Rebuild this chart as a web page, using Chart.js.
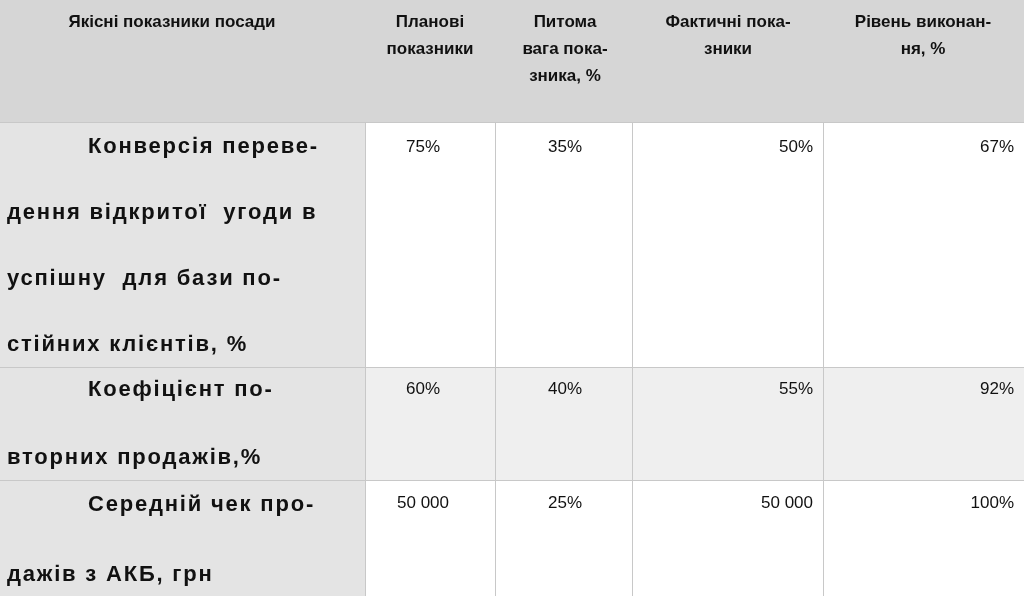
<!DOCTYPE html>
<html><head><meta charset="utf-8">
<script src="https://cdn.jsdelivr.net/npm/chart.js@4.4.6/dist/chart.umd.min.js"></script>
<style>html,body{margin:0;padding:0;background:#fff}#wrap{width:1024px;height:596px}</style>
</head><body><div id="wrap"><canvas id="c"></canvas></div>
<script>
// table data
const headers = [
  ['Якісні показники посади'],
  ['Планові', 'показники'],
  ['Питома', 'вага пока-', 'зника, %'],
  ['Фактичні пока-', 'зники'],
  ['Рівень виконан-', 'ня, %']
]
const rowLabels = [
  ['Конверсія переве-', 'дення відкритої  угоди в', 'успішну  для бази по-', 'стійних клієнтів, %'],
  ['Коефіцієнт по-', 'вторних продажів,%'],
  ['Середній чек про-', 'дажів з АКБ, грн']
]
const planned = ['75%', '60%', '50 000']
const weight = ['35%', '40%', '25%']
const actual = ['50%', '55%', '50 000']
const completion = ['67%', '92%', '100%']

// layout (pixels in a 1024x596 coordinate space)
const colEdges = [0, 365, 495, 632, 823, 1024]
const rowEdges = [0, 122, 367, 480, 596]
const FONT = '"Helvetica Neue", "Liberation Sans", Arial, sans-serif'

const tablePlugin = {
  id: 'table',
  afterDraw (chart) {
    const { ctx, scales: { x, y } } = chart
    const px = v => x.getPixelForValue(v)
    const py = v => y.getPixelForValue(v)
    const rect = (c0, c1, r0, r1, fill) => {
      ctx.fillStyle = fill
      ctx.fillRect(px(c0), py(r0), px(c1) - px(c0), py(r1) - py(r0))
    }
    ctx.save()
    // backgrounds
    rect(0, 1024, 0, 122, '#d6d6d6')
    rect(0, 365, 122, 596, '#e4e4e4')
    rect(365, 1024, 367, 480, '#efefef')
    // grid lines
    ctx.strokeStyle = '#c8c8c8'
    ctx.lineWidth = 1
    colEdges.slice(1, -1).forEach(cx => {
      ctx.beginPath(); ctx.moveTo(px(cx) + 0.5, py(122)); ctx.lineTo(px(cx) + 0.5, py(596)); ctx.stroke()
    })
    rowEdges.slice(1, -1).forEach(ry => {
      ctx.beginPath(); ctx.moveTo(px(0), py(ry) + 0.5); ctx.lineTo(px(1024), py(ry) + 0.5); ctx.stroke()
    })
    ctx.fillStyle = '#111'
    ctx.textBaseline = 'middle'
    // headers
    ctx.font = 'bold 17px ' + FONT
    ctx.textAlign = 'center'
    const hx = [172, 430, 565, 728, 923]
    headers.forEach((lines, i) => lines.forEach((t, j) => ctx.fillText(t, px(hx[i]), py(22 + j * 27))))
    // row labels
    ctx.font = 'bold 22px ' + FONT
    ctx.letterSpacing = '1.8px'
    ctx.textAlign = 'left'
    const labelTop = [147, 390, 505]
    const labelStep = [66, 68, 70]
    rowLabels.forEach((lines, i) => lines.forEach((t, j) => {
      ctx.fillText(t, px(j === 0 ? 88 : 7), py(labelTop[i] + j * labelStep[i]))
    }))
    ctx.letterSpacing = '0px'
    // values
    ctx.font = '17px ' + FONT
    const valTop = [147, 389, 503]
    const cols = [[planned, 'center', 423], [weight, 'center', 565], [actual, 'right', 813], [completion, 'right', 1014]]
    cols.forEach(([arr, align, cx]) => {
      ctx.textAlign = align
      arr.forEach((v, i) => ctx.fillText(v, px(cx), py(valTop[i])))
    })
    ctx.restore()
  }
}

new Chart(document.getElementById('c'), {
  type: 'scatter',
  data: { datasets: [{ data: [] }] },
  options: {
    responsive: true,
    maintainAspectRatio: false,
    animation: false,
    layout: { padding: 0 },
    plugins: { legend: { display: false }, tooltip: { enabled: false } },
    scales: {
      x: { type: 'linear', min: 0, max: 1024, display: false },
      y: { type: 'linear', min: 0, max: 596, reverse: true, display: false }
    }
  },
  plugins: [tablePlugin]
})
</script>
</body></html>
